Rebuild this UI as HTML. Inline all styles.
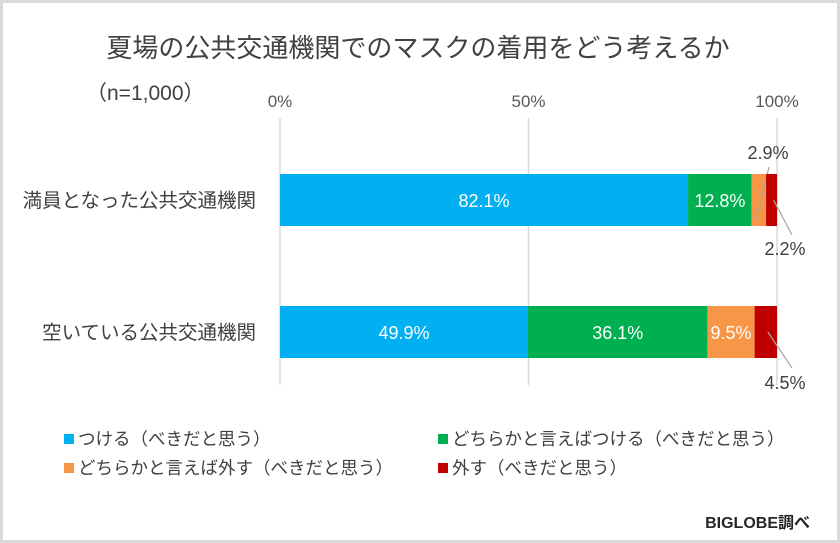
<!DOCTYPE html>
<html><head><meta charset="utf-8"><style>
body{margin:0;background:#fff;}
svg{display:block;font-family:"Liberation Sans","Noto Sans CJK JP",sans-serif;}
</style></head><body>
<svg id="c" width="840" height="543" viewBox="0 0 840 543">
<rect x="1.5" y="1.5" width="837" height="540" fill="#fff" stroke="#d9d9d9" stroke-width="3"/>
<text x="418" y="57" text-anchor="middle" font-size="26" fill="#404040">夏場の公共交通機関でのマスクの着用をどう考えるか</text>
<text x="86" y="100" font-size="21" fill="#404040">（n=1,000）</text>
<g id="grid"></g><g id="bars"></g><g id="legend"></g>
<text x="810" y="528" text-anchor="end" font-size="16" font-weight="bold" fill="#262626">BIGLOBE調べ</text>
</svg>
<script>
const categories=["満員となった公共交通機関","空いている公共交通機関"];
const seriesNames=["つける（べきだと思う）","どちらかと言えばつける（べきだと思う）","どちらかと言えば外す（べきだと思う）","外す（べきだと思う）"];
const colors=["#00b0f0","#00b050","#f79646","#c00000"];
const s1=[82.1,49.9];
const s2=[12.8,36.1];
const s3=[2.9,9.5];
const s4=[2.2,4.5];
const ticks=[0,50,100];
const series=[s1,s2,s3,s4];
const NS="http://www.w3.org/2000/svg";
const x0=280,x1=777;
const xs=v=>x0+(x1-x0)*v/100;
const rowY=[200,332],bh=52;
function mk(tag,attrs,parent,txt){const e=document.createElementNS(NS,tag);for(const k in attrs)e.setAttribute(k,attrs[k]);if(txt!=null)e.textContent=txt;parent.appendChild(e);return e;}
const grid=document.getElementById('grid'),bars=document.getElementById('bars'),leg=document.getElementById('legend');
ticks.forEach(t=>{
 const l=mk('line',{x1:xs(t),x2:xs(t),y1:118,y2:385,stroke:'#d9d9d9','stroke-width':1.5},grid);
 
 
 const tx=mk('text',{x:xs(t),y:107,'text-anchor':'middle','font-size':17,fill:'#595959'},grid,t+'%');
 
 
});
categories.forEach((c,i)=>{
 const y=rowY[i];
 const lab=mk('text',{x:256,y:y+7,'text-anchor':'end','font-size':19.5,fill:'#404040'},bars,c);
 
 
 let acc=0;
 series.forEach((s,j)=>{
  const v=s[i];const xa=xs(acc),xb=xs(acc+v);
  const r=mk('rect',{x:xa,y:y-bh/2,width:xb-xa,height:bh,fill:colors[j]},bars);
  
  
  const w=xb-xa;
  if(w>30){
   const t=mk('text',{x:(xa+xb)/2,y:y+7,'text-anchor':'middle','font-size':18,fill:'#fff'},bars,v.toFixed(1)+'%');
   
   
  }else{
   const mid=(xa+xb)/2;
   let ly,lx,la,lb;
   if(j===2){lx=768;ly=159;la=[mid-3,y+20];lb=[769,167];}
   else {lx=785;ly=i===0?255:389;la=[mid+2,y];lb=[792,i===0?235:368];}
   const ln=mk('line',{x1:la[0],y1:la[1],x2:lb[0],y2:lb[1],stroke:'#a6a6a6','stroke-width':1.2},bars);
   
   
   const t=mk('text',{x:lx,y:ly,'text-anchor':'middle','font-size':18,fill:'#404040'},bars,v.toFixed(1)+'%');
   
   
  }
  acc+=v;
 });
});
const lpos=[[64,445],[438,445],[64,474],[438,474]];
seriesNames.forEach((n,j)=>{
 const [lx,ly]=lpos[j];
 const g=mk('g',{},leg);
 
 
 mk('rect',{x:lx,y:ly-11,width:10,height:10,fill:colors[j]},g);
 mk('text',{x:lx+14,y:ly,'font-size':17.5,fill:'#404040'},g,n);
});
</script>
</body></html>
